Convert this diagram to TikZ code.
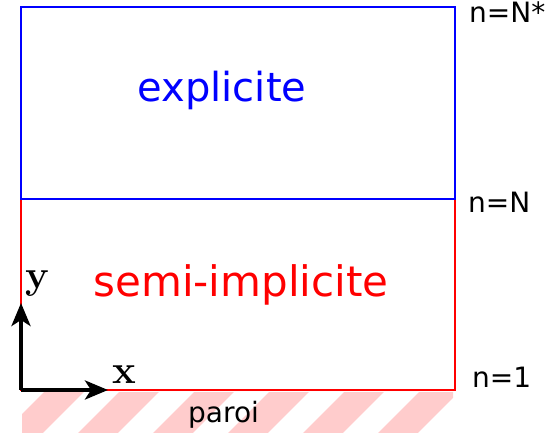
\documentclass[tikz,border=0pt]{standalone}
\usepackage{fontspec}
\setmainfont{DejaVu Sans}
\newfontfamily\serifgras{Latin Modern Roman}
\usetikzlibrary{arrows.meta}
\definecolor{hachure}{HTML}{FFCCCC}

\begin{document}
\begin{tikzpicture}[x=1pt,y=1pt,
  zone/.style={line width=2.6pt},
  axe/.style={line width=4pt,-{Stealth[length=23pt,width=19pt,inset=6pt]}},
  niveau/.style={anchor=base west,inner sep=0pt,font=\fontsize{28}{28}\selectfont},
  titre/.style={anchor=base,inner sep=0pt},
  axelab/.style={anchor=base,inner sep=0pt,font=\serifgras\bfseries\fontsize{40}{40}\selectfont}]
\useasboundingbox (0,0) rectangle (550,437);
% paroi hachuree
\begin{scope}
\clip (22,4) rectangle (453,44);
\foreach \i in {-4,...,3}
  \draw[hachure,line width=28pt] (234+\i*75,-10)--++(65,65);
\end{scope}
\coordinate (haut) at (21,430);
\coordinate (milieu) at (455,238);
\coordinate (bas) at (21,47);
\draw[zone,red] (bas) rectangle (milieu);
\draw[zone,blue] (haut) rectangle (milieu);
\node[titre,blue,font=\fontsize{40}{40}\selectfont] (expl) at (222,335) {explicite};
\node[titre,red,font=\fontsize{42}{42}\selectfont] (semi) at (241,140) {semi-implicite};
\node[niveau] (nstar) at (469,414) {n=N*};
\node[niveau] (nN) at (468,224) {n=N};
\node[niveau] (n1) at (472,49) {n=1};
\node[niveau] (paroi) at (188,14) {paroi};
% axes
\coordinate (xfin) at (108,47);
\coordinate (yfin) at (21,134);
\draw[axe] (bas)--(xfin);
\draw[axe] (bas)--(yfin);
\node[axelab] (xlab) at (124,53) {x};
\node[axelab] (ylab) at (37.5,148) {y};
\end{tikzpicture}
\end{document}
